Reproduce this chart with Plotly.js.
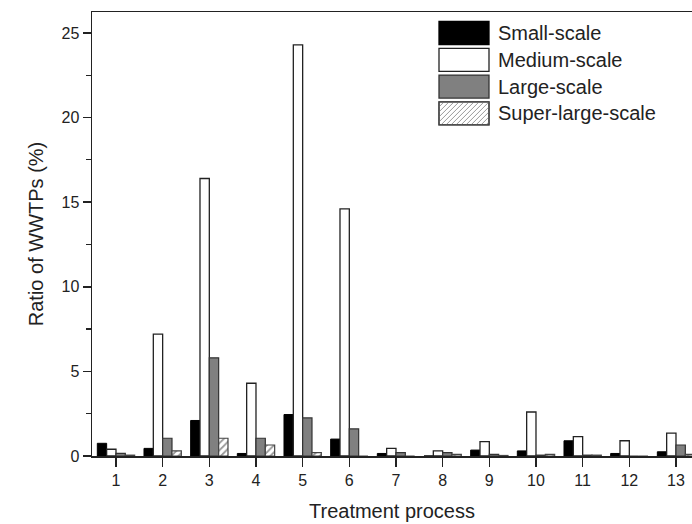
<!DOCTYPE html>
<html>
<head>
<meta charset="utf-8">
<script src="https://cdn.plot.ly/plotly-3.0.1.min.js"></script>
<style>html,body{margin:0;padding:0;background:#fff;overflow:hidden}#chart{width:692px;height:524px}</style>
</head>
<body>
<div id="chart"></div>
<script>
const categories = [1, 2, 3, 4, 5, 6, 7, 8, 9, 10, 11, 12, 13];
const tickLabels = ['1','2','3','4','5','6','7','8','9','10','11','12','13'];
const seriesNames = ['Small-scale', 'Medium-scale', 'Large-scale', 'Super-large-scale'];
const small = [0.75, 0.45, 2.1, 0.15, 2.45, 1.0, 0.15, 0, 0.35, 0.3, 0.9, 0.15, 0.25];
const medium = [0.4, 7.2, 16.4, 4.3, 24.3, 14.6, 0.45, 0.3, 0.85, 2.6, 1.15, 0.9, 1.35];
const large = [0.15, 1.05, 5.8, 1.05, 2.25, 1.6, 0.2, 0.2, 0.1, 0.05, 0.05, 0, 0.65];
const superLarge = [0.05, 0.3, 1.05, 0.65, 0.2, 0, 0, 0.1, 0.03, 0.1, 0.05, 0, 0.1];

const W = 692, H = 524;
const M = {l: 92, r: 0, t: 12, b: 68};
const PW = W - M.l - M.r, PH = H - M.t - M.b;
const px = x => (x - M.l) / PW;
const py = y => (H - M.b - y) / PH;

const traces = [
  {type: 'bar', x: categories, y: small, name: seriesNames[0],
   marker: {color: '#000', line: {color: '#000', width: 1}}},
  {type: 'bar', x: categories, y: medium, name: seriesNames[1],
   marker: {color: '#fff', line: {color: '#222', width: 1.3}}},
  {type: 'bar', x: categories, y: large, name: seriesNames[2],
   marker: {color: '#808080', line: {color: '#333', width: 1.2}}},
  {type: 'bar', x: categories, y: superLarge, name: seriesNames[3],
   marker: {color: '#fff', line: {color: '#444', width: 1.2},
            pattern: {shape: '/', fgcolor: '#999', bgcolor: '#fff', size: 5, solidity: 0.35}}}
];

// manual legend (large swatches)
const shapes = [];
const annotations = [];
const legX0 = 439, legX1 = 489, legRowH = 26.8, legY0 = 33, swH = 23;
const fills = [
  {fill: '#000', line: '#000'},
  {fill: '#fff', line: '#222'},
  {fill: '#808080', line: '#333'},
  {fill: '#fff', line: '#444', hatch: true}
];
seriesNames.forEach((name, i) => {
  const cy = legY0 + i * legRowH;
  const y0 = cy - swH / 2, y1 = cy + swH / 2;
  shapes.push({type: 'rect', xref: 'paper', yref: 'paper',
    x0: px(legX0), x1: px(legX1), y0: py(y1), y1: py(y0),
    fillcolor: fills[i].fill, line: {color: fills[i].line, width: 1.3}, layer: 'above'});
  if (fills[i].hatch) {
    let d = '';
    const step = 5;
    for (let k = -swH; k < (legX1 - legX0); k += step) {
      let xa = legX0 + k, ya = y1, xb = legX0 + k + swH, yb = y0;
      if (xa < legX0) { ya = y1 - (legX0 - xa); xa = legX0; }
      if (xb > legX1) { yb = y0 + (xb - legX1); xb = legX1; }
      if (xb <= xa) continue;
      d += 'M' + px(xa) + ',' + py(ya) + 'L' + px(xb) + ',' + py(yb);
    }
    shapes.push({type: 'path', xref: 'paper', yref: 'paper', path: d,
      line: {color: '#9a9a9a', width: 1}, layer: 'above'});
    shapes.push({type: 'rect', xref: 'paper', yref: 'paper',
      x0: px(legX0), x1: px(legX1), y0: py(y1), y1: py(y0),
      fillcolor: 'rgba(0,0,0,0)', line: {color: fills[i].line, width: 1.3}, layer: 'above'});
  }
  annotations.push({xref: 'paper', yref: 'paper', x: px(496), y: py(cy),
    xanchor: 'left', yanchor: 'middle', text: name, showarrow: false,
    font: {family: 'Liberation Sans, Arial, sans-serif', size: 20, color: '#222'}});
});

const layout = {
  width: W, height: H,
  margin: M,
  paper_bgcolor: '#fff', plot_bgcolor: '#fff',
  font: {family: 'Liberation Sans, Arial, sans-serif', color: '#222'},
  showlegend: false,
  barmode: 'group', bargap: 0.2, bargroupgap: 0,
  xaxis: {
    range: [0.486, 13.343], tickvals: categories, ticktext: tickLabels,
    ticks: 'outside', ticklen: 9, tickwidth: 1.5, tickcolor: '#222',
    showline: true, linewidth: 1.5, linecolor: '#222', mirror: true,
    showgrid: false, zeroline: false,
    tickfont: {size: 16, color: '#222'},
    title: {text: 'Treatment process', font: {size: 20, color: '#222'}, standoff: 16}
  },
  yaxis: {
    range: [0, 26.24], tick0: 0, dtick: 5,
    ticks: 'outside', ticklen: 8, tickwidth: 1.5, tickcolor: '#222',
    minor: {dtick: 2.5, ticks: 'outside', ticklen: 5, tickwidth: 1.2, tickcolor: '#222'},
    showline: true, linewidth: 1.5, linecolor: '#222', mirror: true,
    showgrid: false, zeroline: false,
    tickfont: {size: 16, color: '#222'},
    title: {text: 'Ratio of WWTPs (%)', font: {size: 20, color: '#222'}, standoff: 12}
  },
  shapes: shapes,
  annotations: annotations
};

Plotly.newPlot('chart', traces, layout, {staticPlot: true, displayModeBar: false});
</script>
</body>
</html>
